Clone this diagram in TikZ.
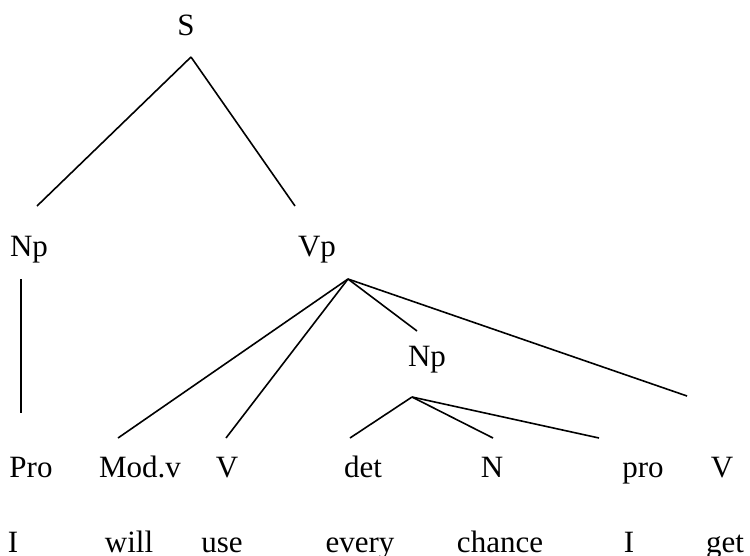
\documentclass[tikz,border=0pt]{standalone}
\usepackage{fontspec}
\setmainfont{Liberation Serif}
\usepackage{tikz}

\begin{document}
\begin{tikzpicture}[x=1pt, y=-1pt,
      cat/.style={inner sep=0pt, anchor=base, font=\fontsize{31}{36}\selectfont},
      word/.style={inner sep=0pt, anchor=base, font=\fontsize{31}{36}\selectfont},
      branch/.style={line width=1.6pt, draw=black}
    ]
      \useasboundingbox (0,0) rectangle (750,555);
      % categories
      \node[cat] (s) at (186,35) {S};
      \node[cat] (np1) at (29,256) {Np};
      \node[cat] (vp) at (317,256) {Vp};
      \node[cat] (np2) at (427,366) {Np};
      \node[cat] (pro1) at (31,477) {Pro};
      \node[cat] (modv) at (140,477) {Mod.v};
      \node[cat] (v1) at (227,477) {V};
      \node[cat] (det) at (363,477) {det};
      \node[cat] (n) at (492,477) {N};
      \node[cat] (pro2) at (643,477) {pro};
      \node[cat] (v2) at (722,477) {V};
      % words
      \node[word] (w1) at (13,552) {I};
      \node[word] (w2) at (129,552) {will};
      \node[word] (w3) at (222,552) {use};
      \node[word] (w4) at (360,552) {every};
      \node[word] (w5) at (500,552) {chance};
      \node[word] (w6) at (629,552) {I};
      \node[word] (w7) at (725,552) {get};
      % branch ends
      \coordinate (s-foot) at (191,57);
      \coordinate (np1-top) at (37,206);
      \coordinate (vp-top) at (295,206);
      \coordinate (np1-foot) at (21,279);
      \coordinate (pro1-top) at (21,413);
      \coordinate (vp-foot) at (348,279);
      \coordinate (modv-top) at (118,438);
      \coordinate (v1-top) at (226,438);
      \coordinate (np2-top) at (417,331);
      \coordinate (v2-top) at (687,396);
      \coordinate (np2-foot) at (412,397);
      \coordinate (det-top) at (350,438);
      \coordinate (n-top) at (493,438);
      \coordinate (pro2-top) at (599,438);
      \draw[branch] (s-foot) -- (np1-top);
      \draw[branch] (s-foot) -- (vp-top);
      \draw[branch] (np1-foot) -- (pro1-top);
      \draw[branch] (vp-foot) -- (modv-top);
      \draw[branch] (vp-foot) -- (v1-top);
      \draw[branch] (vp-foot) -- (np2-top);
      \draw[branch] (vp-foot) -- (v2-top);
      \draw[branch] (np2-foot) -- (det-top);
      \draw[branch] (np2-foot) -- (n-top);
      \draw[branch] (np2-foot) -- (pro2-top);
    \end{tikzpicture}
\end{document}
